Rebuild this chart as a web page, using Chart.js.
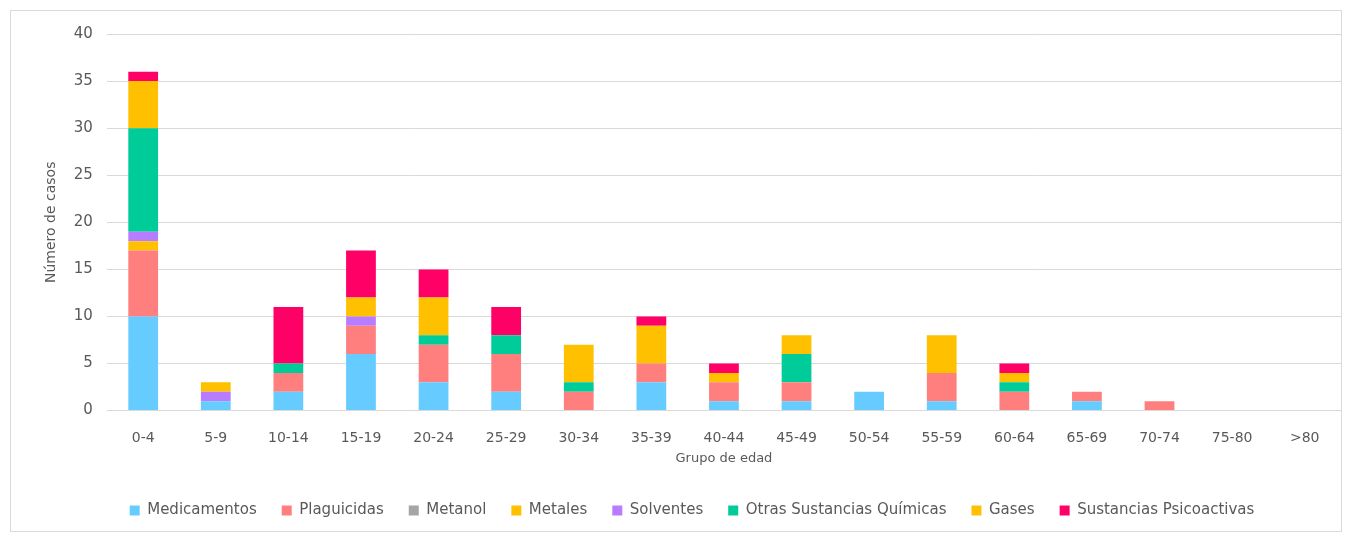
<!DOCTYPE html>
<html>
<head>
<meta charset="utf-8">
<script src="https://cdn.jsdelivr.net/npm/chart.js@4"></script>
<style>
  body { margin: 0; background: #fff; }
  #marco {
    position: absolute; left: 10px; top: 10px;
    width: 1332px; height: 522px;
    border: 1px solid #D9D9D9; box-sizing: border-box;
  }
</style>
</head>
<body>
<div id="marco"><canvas id="grafico"></canvas></div>
<script>
// grupos de edad
const grupos = ["0-4","5-9","10-14","15-19","20-24","25-29","30-34","35-39","40-44","45-49","50-54","55-59","60-64","65-69","70-74","75-80",">80"];

// casos por tipo de sustancia
const medicamentos = [10,1,2,6,3,2,0,3,1,1,2,1,0,1,0,0,0];
const plaguicidas  = [7,0,2,3,4,4,2,2,2,2,0,3,2,1,1,0,0];
const metanol      = [0,0,0,0,0,0,0,0,0,0,0,0,0,0,0,0,0];
const metales      = [1,0,0,0,0,0,0,0,0,0,0,0,0,0,0,0,0];
const solventes    = [1,1,0,1,0,0,0,0,0,0,0,0,0,0,0,0,0];
const otras        = [11,0,1,0,1,2,1,0,0,3,0,0,1,0,0,0,0];
const gases        = [5,1,0,2,4,0,4,4,1,2,0,4,1,0,0,0,0];
const psicoactivas = [1,0,6,5,3,3,0,1,1,0,0,0,1,0,0,0,0];

const yTicks = [0,5,10,15,20,25,30,35,40];

const fuente = "'DejaVu Sans', sans-serif";
const gris = "#595959";

function serie(nombre, datos, color) {
    return {
        label: nombre,
        data: datos,
        backgroundColor: color,
        borderWidth: 0,
        barPercentage: 0.41,
        categoryPercentage: 1
    };
}

new Chart(document.getElementById("grafico"), {
    type: "bar",
    data: {
        labels: grupos,
        datasets: [
            serie("Medicamentos", medicamentos, "#66CCFF"),
            serie("Plaguicidas", plaguicidas, "#FF7F7F"),
            serie("Metanol", metanol, "#A5A5A5"),
            serie("Metales", metales, "#FFC000"),
            serie("Solventes", solventes, "#B77CFF"),
            serie("Otras Sustancias Químicas", otras, "#00CC99"),
            serie("Gases", gases, "#FFC000"),
            serie("Sustancias Psicoactivas", psicoactivas, "#FF0066")
        ]
    },
    options: {
        responsive: true,
        maintainAspectRatio: false,
        animation: false,
        layout: { padding: { top: 10, right: 0, left: 32, bottom: 3 } },
        plugins: {
            tooltip: { enabled: false },
            legend: {
                position: "bottom",
                labels: {
                    boxWidth: 10, boxHeight: 10, padding: 25,
                    color: gris, font: { family: fuente, size: 15 }
                }
            }
        },
        scales: {
            x: {
                stacked: true,
                grid: { display: false, drawTicks: false },
                border: { display: false },
                ticks: { color: gris, font: { family: fuente, size: 14 }, padding: 19 },
                title: {
                    display: true, text: "Grupo de edad", color: gris,
                    font: { family: fuente, size: 13 }, padding: { top: -15, bottom: 12 }
                }
            },
            y: {
                stacked: true,
                min: 0, max: 40,
                afterBuildTicks: (axis) => { axis.ticks = yTicks.map(v => ({ value: v })); },
                grid: { color: "#D9D9D9", drawTicks: false },
                border: { display: false },
                ticks: { color: gris, font: { family: fuente, size: 15 }, padding: 14 },
                title: {
                    display: true, text: "Número de casos", color: gris,
                    font: { family: fuente, size: 14 }, padding: 0
                }
            }
        }
    }
});
</script>
</body>
</html>
